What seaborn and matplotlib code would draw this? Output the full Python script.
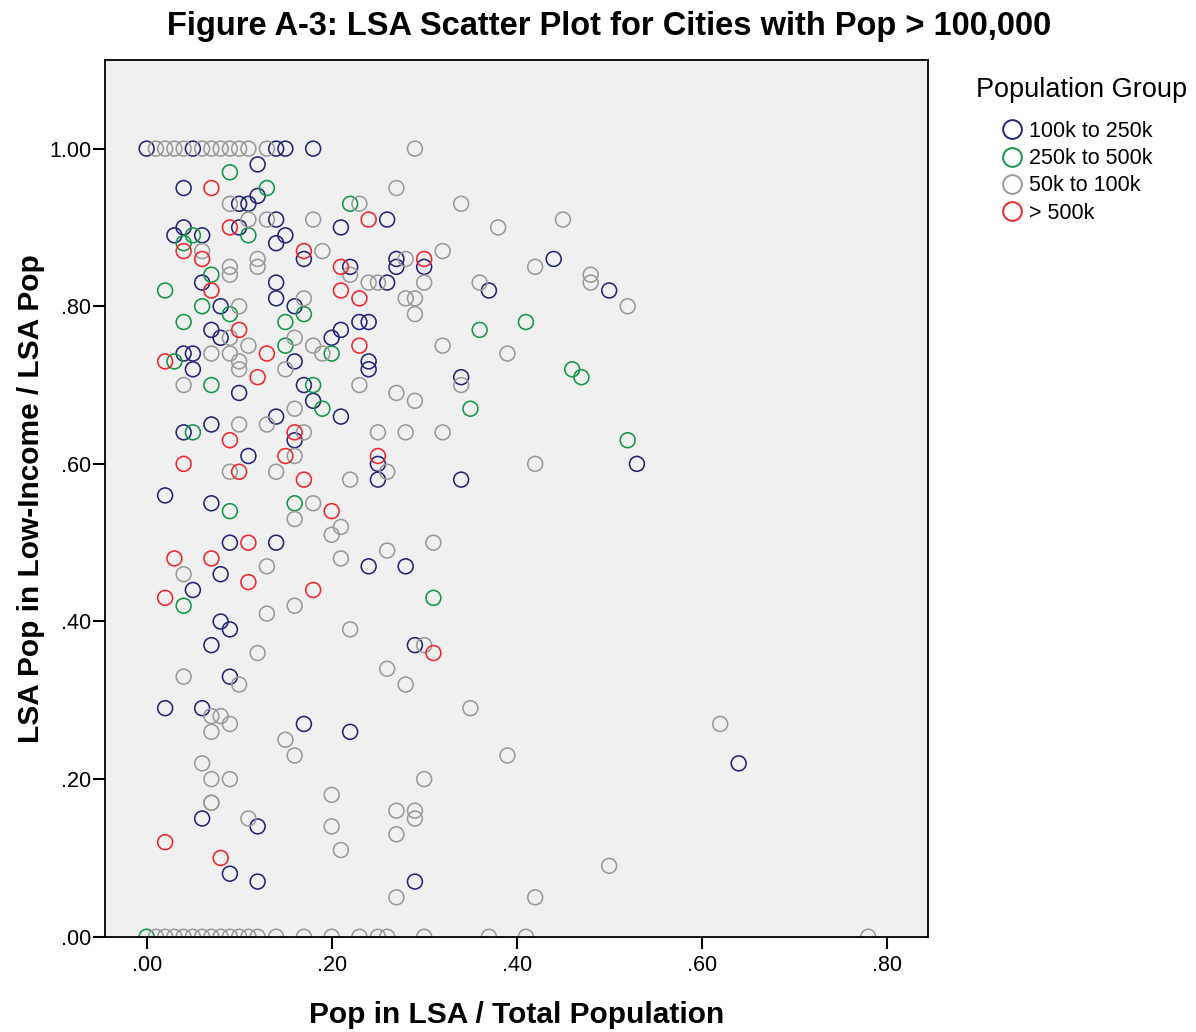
import matplotlib
matplotlib.use("Agg")
import matplotlib.pyplot as plt
from matplotlib.lines import Line2D
from matplotlib.ticker import FuncFormatter
import seaborn as sns
import pandas as pd

# ---- data ----
groups = ["100k to 250k", "250k to 500k", "50k to 100k", "> 500k"]
colors = ["#24257a", "#129847", "#9b9b9b", "#f0262c"]

blue_x = [0.00, 0.05, 0.14, 0.15, 0.18, 0.12, 0.04, 0.12, 0.10, 0.11, 0.14, 0.21, 0.10, 0.04,
          0.03, 0.06, 0.14, 0.15, 0.17, 0.06, 0.14, 0.14, 0.08, 0.16, 0.07, 0.08, 0.20, 0.21,
          0.04, 0.05, 0.16, 0.05, 0.10, 0.17, 0.18, 0.21, 0.14, 0.07, 0.04, 0.16, 0.11, 0.02,
          0.07, 0.09, 0.14, 0.08, 0.05, 0.08, 0.09, 0.07, 0.09, 0.02, 0.06, 0.17, 0.06, 0.12,
          0.09, 0.12, 0.26, 0.27, 0.27, 0.30, 0.22, 0.44, 0.26, 0.37, 0.23, 0.24, 0.24, 0.24,
          0.34, 0.25, 0.25, 0.34, 0.24, 0.28, 0.50, 0.53, 0.29, 0.22, 0.29, 0.64]
blue_y = [1.00, 1.00, 1.00, 1.00, 1.00, 0.98, 0.95, 0.94, 0.93, 0.93, 0.91, 0.90, 0.90, 0.90,
          0.89, 0.89, 0.88, 0.89, 0.86, 0.83, 0.83, 0.81, 0.80, 0.80, 0.77, 0.76, 0.76, 0.77,
          0.74, 0.74, 0.73, 0.72, 0.69, 0.70, 0.68, 0.66, 0.66, 0.65, 0.64, 0.63, 0.61, 0.56,
          0.55, 0.50, 0.50, 0.46, 0.44, 0.40, 0.39, 0.37, 0.33, 0.29, 0.29, 0.27, 0.15, 0.14,
          0.08, 0.07, 0.91, 0.86, 0.85, 0.85, 0.85, 0.86, 0.83, 0.82, 0.78, 0.78, 0.73, 0.72,
          0.71, 0.60, 0.58, 0.58, 0.47, 0.47, 0.82, 0.60, 0.37, 0.26, 0.07, 0.22]

green_x = [0.09, 0.13, 0.11, 0.05, 0.04, 0.07, 0.02, 0.06, 0.09, 0.17, 0.04, 0.15, 0.15, 0.20,
           0.03, 0.07, 0.18, 0.19, 0.05, 0.09, 0.16, 0.04, 0.00, 0.22, 0.36, 0.41, 0.46, 0.47,
           0.35, 0.52, 0.31]
green_y = [0.97, 0.95, 0.89, 0.89, 0.88, 0.84, 0.82, 0.80, 0.79, 0.79, 0.78, 0.78, 0.75, 0.74,
           0.73, 0.70, 0.70, 0.67, 0.64, 0.54, 0.55, 0.42, 0.00, 0.93, 0.77, 0.78, 0.72, 0.71,
           0.67, 0.63, 0.43]

gray_x = [0.01, 0.02, 0.03, 0.04, 0.06, 0.07, 0.08, 0.09, 0.10, 0.11, 0.13, 0.29,
          0.09, 0.11, 0.13, 0.18, 0.06, 0.19, 0.09, 0.09, 0.12, 0.12, 0.17, 0.10, 0.09, 0.16,
          0.11, 0.18, 0.19, 0.07, 0.09, 0.10, 0.10, 0.15, 0.04, 0.16, 0.13, 0.10, 0.17, 0.16,
          0.09, 0.14, 0.18, 0.16, 0.21, 0.20, 0.21, 0.04, 0.13, 0.16, 0.13, 0.12, 0.04, 0.10,
          0.07, 0.08, 0.09, 0.07, 0.15, 0.16, 0.06, 0.07, 0.09, 0.07, 0.07, 0.20, 0.20, 0.21,
          0.11,
          0.01, 0.02, 0.03, 0.04, 0.05, 0.06, 0.07, 0.08, 0.09, 0.10, 0.11, 0.12, 0.14, 0.17,
          0.20, 0.23, 0.25, 0.26, 0.30, 0.37, 0.41, 0.78,
          0.27, 0.23, 0.34, 0.38, 0.45, 0.32, 0.28, 0.22, 0.42, 0.24, 0.25, 0.30, 0.36, 0.28,
          0.29, 0.29, 0.32, 0.39, 0.34, 0.23, 0.27, 0.29, 0.25, 0.28, 0.32, 0.26, 0.22, 0.42,
          0.31, 0.26, 0.48, 0.48, 0.52, 0.22, 0.30, 0.26, 0.28, 0.35, 0.39, 0.30, 0.27, 0.29,
          0.29, 0.27, 0.27, 0.42, 0.62, 0.50]
gray_y = [1.00, 1.00, 1.00, 1.00, 1.00, 1.00, 1.00, 1.00, 1.00, 1.00, 1.00, 1.00,
          0.93, 0.91, 0.91, 0.91, 0.87, 0.87, 0.85, 0.84, 0.86, 0.85, 0.81, 0.80, 0.76, 0.76,
          0.75, 0.75, 0.74, 0.74, 0.74, 0.73, 0.72, 0.72, 0.70, 0.67, 0.65, 0.65, 0.64, 0.61,
          0.59, 0.59, 0.55, 0.53, 0.52, 0.51, 0.48, 0.46, 0.47, 0.42, 0.41, 0.36, 0.33, 0.32,
          0.28, 0.28, 0.27, 0.26, 0.25, 0.23, 0.22, 0.20, 0.20, 0.17, 0.17, 0.18, 0.14, 0.11,
          0.15,
          0.00, 0.00, 0.00, 0.00, 0.00, 0.00, 0.00, 0.00, 0.00, 0.00, 0.00, 0.00, 0.00, 0.00,
          0.00, 0.00, 0.00, 0.00, 0.00, 0.00, 0.00, 0.00,
          0.95, 0.93, 0.93, 0.90, 0.91, 0.87, 0.86, 0.84, 0.85, 0.83, 0.83, 0.83, 0.83, 0.81,
          0.81, 0.79, 0.75, 0.74, 0.70, 0.70, 0.69, 0.68, 0.64, 0.64, 0.64, 0.59, 0.58, 0.60,
          0.50, 0.49, 0.84, 0.83, 0.80, 0.39, 0.37, 0.34, 0.32, 0.29, 0.23, 0.20, 0.16, 0.16,
          0.15, 0.13, 0.05, 0.05, 0.27, 0.09]

red_x = [0.07, 0.09, 0.04, 0.06, 0.17, 0.21, 0.21, 0.07, 0.10, 0.13, 0.02, 0.12, 0.16, 0.09,
         0.04, 0.15, 0.10, 0.17, 0.20, 0.11, 0.03, 0.07, 0.11, 0.18, 0.02, 0.02, 0.08, 0.24,
         0.30, 0.23, 0.23, 0.25, 0.31]
red_y = [0.95, 0.90, 0.87, 0.86, 0.87, 0.85, 0.82, 0.82, 0.77, 0.74, 0.73, 0.71, 0.64, 0.63,
         0.60, 0.61, 0.59, 0.58, 0.54, 0.50, 0.48, 0.48, 0.45, 0.44, 0.43, 0.12, 0.10, 0.91,
         0.86, 0.81, 0.75, 0.61, 0.36]

x_ticks = [0.0, 0.2, 0.4, 0.6, 0.8]
y_ticks = [0.0, 0.2, 0.4, 0.6, 0.8, 1.0]

# ---- build table ----
frames = []
for g, xs, ys in zip(groups, [blue_x, green_x, gray_x, red_x], [blue_y, green_y, gray_y, red_y]):
    frames.append(pd.DataFrame({"x": xs, "y": ys, "group": g}))
df = pd.concat(frames, ignore_index=True)
palette = dict(zip(groups, colors))

sns.set_theme(style="white")
plt.rcParams["font.family"] = ["Liberation Sans", "DejaVu Sans"]
plt.rcParams["text.color"] = "black"
plt.rcParams["axes.labelcolor"] = "black"
plt.rcParams["xtick.color"] = "black"
plt.rcParams["ytick.color"] = "black"

fig = plt.figure(figsize=(11.96, 10.32), dpi=100)
ax = fig.add_axes([0.0878, 0.0923, 0.7762 - 0.0878, 0.9419 - 0.0923])
ax.set_facecolor("#f0f0f0")

sns.scatterplot(data=df, x="x", y="y", hue="group", palette=palette, hue_order=groups,
                s=115, linewidth=1.15, legend=False, ax=ax, clip_on=True)
coll = ax.collections[0]
fc = coll.get_facecolors()
coll.set_edgecolors(fc)
coll.set_facecolors("none")

ax.set_xlim(-0.045, 0.845)
ax.set_ylim(0.0, 1.1125)
ax.set_xticks(x_ticks)
ax.set_yticks(y_ticks)
fmt = FuncFormatter(lambda v, p: ("%.2f" % v).lstrip("0"))
ax.xaxis.set_major_formatter(fmt)
ax.yaxis.set_major_formatter(fmt)
ax.tick_params(axis="both", direction="out", length=8.5, width=1.5, colors="black",
               labelsize=15.5, left=True, bottom=True)
ax.tick_params(axis="y", pad=1.5)
ax.tick_params(axis="x", pad=5)
for sp in ax.spines.values():
    sp.set_color("black")
    sp.set_linewidth(1.3)

ax.set_xlabel("Pop in LSA / Total Population", fontsize=21.5, fontweight="bold",
              labelpad=18, color="black")
ax.set_ylabel("LSA Pop in Low-Income / LSA Pop", fontsize=21.5, fontweight="bold",
              labelpad=3, color="black")

fig.text(0.509, 1 - 27 / 1032, "Figure A-3: LSA Scatter Plot for Cities with Pop > 100,000",
         ha="center", va="center", fontsize=23.5, fontweight="bold", color="black")

fig.text(976 / 1196, 1 - 90 / 1032, "Population Group", ha="left", va="center",
         fontsize=19.5, color="black")
handles = [Line2D([0], [0], marker="o", linestyle="none", markersize=13.5,
                  markerfacecolor="none", markeredgecolor=c, markeredgewidth=1.4)
           for c in colors]
leg = fig.legend(handles, groups, loc="upper left", bbox_to_anchor=(1001 / 1196, 1 - 121 / 1032),
                 frameon=False, fontsize=15.5, handlelength=1.0, handletextpad=0.3,
                 labelspacing=0.29, borderpad=0, borderaxespad=0)
for t in leg.get_texts():
    t.set_color("black")

fig.savefig("out.png", dpi=100, facecolor="white")
